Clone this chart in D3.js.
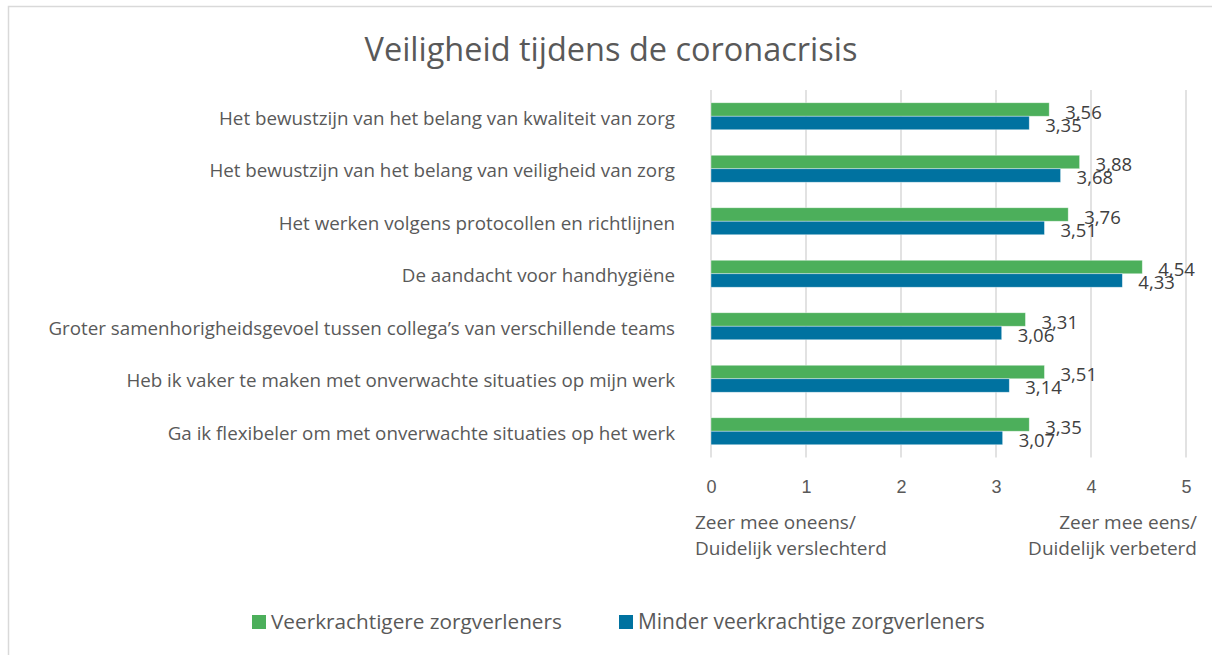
<!DOCTYPE html>
<html><head><meta charset="utf-8">
<script src="https://cdn.jsdelivr.net/npm/d3@7"></script>
<style>
html,body{margin:0;padding:0;background:#fff;}
svg{display:block;font-family:"Open Sans",sans-serif;}
</style></head>
<body><svg id="c" width="1212" height="655"></svg>
<script>
const categories = [
  "Het bewustzijn van het belang van kwaliteit van zorg",
  "Het bewustzijn van het belang van veiligheid van zorg",
  "Het werken volgens protocollen en richtlijnen",
  "De aandacht voor handhygiëne",
  "Groter samenhorigheidsgevoel tussen collega’s van verschillende teams",
  "Heb ik vaker te maken met onverwachte situaties op mijn werk",
  "Ga ik flexibeler om met onverwachte situaties op het werk"
];
const veerkrachtiger = [3.56, 3.88, 3.76, 4.54, 3.31, 3.51, 3.35];
const minderVeerkrachtig = [3.35, 3.68, 3.51, 4.33, 3.06, 3.14, 3.07];
const seriesNames = ["Veerkrachtigere zorgverleners", "Minder veerkrachtige zorgverleners"];
const tickValues = [0, 1, 2, 3, 4, 5];
const title = "Veiligheid tijdens de coronacrisis";
const leftEndLabel = ["Zeer mee oneens/", "Duidelijk verslechterd"];
const rightEndLabel = ["Zeer mee eens/", "Duidelijk verbeterd"];

const colors = ["#4caf5b", "#0072a0"];
const svg = d3.select("#c");

// chart border
svg.append("rect").attr("x", 8.5).attr("y", 6.5).attr("width", 1220).attr("height", 700)
  .attr("fill", "#fff").attr("stroke", "#d9d9d9").attr("stroke-width", 1.5);

const x = d3.scaleLinear().domain([0, 5]).range([711, 1186]);
const y = d3.scaleBand().domain(categories).range([90, 457.5]).paddingInner(0.486).paddingOuter(0.243);
const sub = d3.scaleBand().domain([0, 1]).range([0, y.bandwidth()]);

// fit a text element to a target width by adjusting font-size
function fit(sel, target) {
  const node = sel.node();
  const w = node.getComputedTextLength();
  const fs = parseFloat(sel.style("font-size"));
  sel.style("font-size", (fs * target / w).toFixed(2) + "px");
}

// title
const t = svg.append("text").attr("x", 611).attr("y", 61).attr("text-anchor", "middle")
  .attr("fill", "#595959").style("font-size", "30px").text(title);
fit(t, 493);

// gridlines
svg.append("g").selectAll("line").data(tickValues).join("line")
  .attr("x1", d => x(d)).attr("x2", d => x(d)).attr("y1", 90).attr("y2", 457.5)
  .attr("stroke", "#d9d9d9").attr("stroke-width", 1.5);

// axis (tick labels)
const axis = d3.axisBottom(x).tickValues(tickValues).tickSize(0).tickPadding(0).tickFormat(d3.format("d"));
const ag = svg.append("g").attr("transform", "translate(0,480)").call(axis);
ag.select(".domain").remove();
ag.selectAll("text").attr("fill", "#595959").style("font-size", "18px").style("font-family", null);

// category labels
const catG = svg.append("g");
catG.selectAll("text").data(categories).join("text")
  .attr("x", 675).attr("y", d => y(d) + y.bandwidth() / 2 + 1)
  .attr("text-anchor", "end").attr("dominant-baseline", "central")
  .attr("fill", "#595959").style("font-size", "17px").text(d => d);
// size so the first label spans its reference width
const first = catG.select("text");
const w0 = first.node().getComputedTextLength();
catG.selectAll("text").style("font-size", (17 * 456 / w0).toFixed(2) + "px");

const series = [veerkrachtiger, minderVeerkrachtig];
series.forEach((vals, si) => {
  const g = svg.append("g");
  g.selectAll("rect").data(vals).join("rect")
    .attr("x", x(0)).attr("y", (d, i) => y(categories[i]) + sub(si))
    .attr("width", d => x(d) - x(0)).attr("height", sub.bandwidth())
    .attr("fill", colors[si]).attr("stroke", "#fff").attr("stroke-opacity", 0.5).attr("stroke-width", 0.75);
  g.selectAll("text").data(vals).join("text")
    .attr("x", d => x(d) + 16).attr("y", (d, i) => y(categories[i]) + sub(si) + sub.bandwidth() / 2 + 1.5)
    .attr("dominant-baseline", "central").attr("fill", "#404040").style("font-size", "18.5px")
    .text(d => d3.format(".2f")(d).replace(".", ","));
});

// axis end labels
const endG = svg.append("g").attr("fill", "#595959").style("font-size", "19px");
leftEndLabel.forEach((s, i) => endG.append("text").attr("x", 695).attr("y", 529 + i * 26).text(s));
rightEndLabel.forEach((s, i) => endG.append("text").attr("x", 1197).attr("y", 529 + i * 26).attr("text-anchor", "end").text(s));

// legend
const legX = [252, 619];
seriesNames.forEach((n, i) => {
  svg.append("rect").attr("x", legX[i]).attr("y", 615).attr("width", 14).attr("height", 14).attr("fill", colors[i]);
  const lt = svg.append("text").attr("x", legX[i] + 19).attr("y", 629).attr("fill", "#595959").style("font-size", "20px").text(n);
  if (i === 0) fit(lt, 291);
  else fit(lt, 347);
});
</script></body></html>
